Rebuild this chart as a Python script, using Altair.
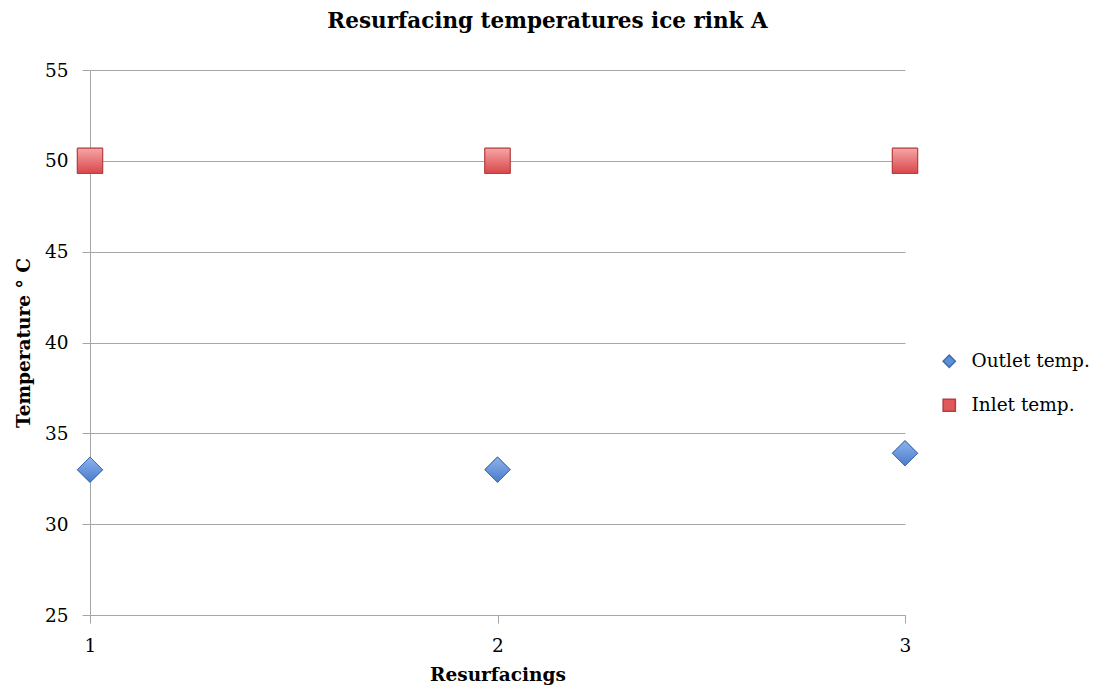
import altair as alt
import pandas as pd

resurfacings = [1, 2, 3]
outlet_temp = [33.0, 33.0, 33.9]
inlet_temp = [50.0, 50.0, 50.0]
series_names = ["Outlet temp.", "Inlet temp."]
series_colors = ["#5B8FD8", "#E0585B"]
series_strokes = ["#3F6DB0", "#B23F42"]
series_shapes = ["diamond", "square"]
series_grad = [("#8DB3EC", "#4A7CCB"), ("#F6A5A6", "#D8474A")]
y_ticks = [25, 30, 35, 40, 45, 50, 55]

rows = []
for x, o, i in zip(resurfacings, outlet_temp, inlet_temp):
    rows.append({"Resurfacings": x, "Temp": o, "Series": series_names[0]})
    rows.append({"Resurfacings": x, "Temp": i, "Series": series_names[1]})
df = pd.DataFrame(rows)

FONT = "DejaVu Serif"
GRID = "#A6A6A6"

x_enc = alt.X("Resurfacings:Q",
              scale=alt.Scale(domain=[1, 3], nice=False, zero=False),
              axis=alt.Axis(title="Resurfacings", tickCount=2,
                            grid=False, labelOverlap=False, labelBound=False, labelFlush=False,
                            domainColor=GRID, tickColor=GRID, tickSize=8,
                            labelFontSize=18.5, labelFont=FONT, labelPadding=13,
                            titleFontSize=18.5, titleFont=FONT, titleFontWeight="bold",
                            titlePadding=11, labelColor="#000", titleColor="#000"))
y_enc = alt.Y("Temp:Q",
              scale=alt.Scale(domain=[25, 55], nice=False, zero=False),
              axis=alt.Axis(title="Temperature ° C", values=y_ticks, tickCount=20,
                            labelOverlap=False,
                            grid=True, gridColor=GRID, domainColor=GRID, tickColor=GRID,
                            tickSize=8, labelFontSize=18.5, labelFont=FONT, labelPadding=14,
                            titleFontSize=18.5, titleFont=FONT, titleFontWeight="bold",
                            titlePadding=11, labelColor="#000", titleColor="#000"))

base = alt.Chart(df).mark_point(filled=True, size=640, opacity=1, strokeWidth=1).encode(
    x=x_enc,
    y=y_enc,
    color=alt.Color("Series:N",
                    scale=alt.Scale(domain=series_names, range=series_colors),
                    legend=alt.Legend(title=None, orient="none", legendX=850, legendY=282,
                                      labelFont=FONT, labelFontSize=18.5, labelColor="#000",
                                      symbolSize=150, rowPadding=25, labelOffset=13)),
    stroke=alt.Stroke("Series:N",
                      scale=alt.Scale(domain=series_names, range=series_strokes),
                      legend=None),
    shape=alt.Shape("Series:N",
                    scale=alt.Scale(domain=series_names, range=series_shapes),
                    legend=None),
)

overlays = []
for name, shape, stroke, (c1, c2) in zip(series_names, series_shapes, series_strokes, series_grad):
    grad = alt.Gradient(gradient="linear", x1=0, x2=0, y1=0, y2=1,
                        stops=[alt.GradientStop(color=c1, offset=0),
                               alt.GradientStop(color=c2, offset=1)])
    overlays.append(
        alt.Chart(df).transform_filter(alt.datum.Series == name).mark_point(
            filled=True, size=640, opacity=1, strokeWidth=1, shape=shape,
            fill=grad, stroke=stroke
        ).encode(x="Resurfacings:Q", y="Temp:Q")
    )

chart = alt.layer(base, *overlays).properties(
    width=815,
    height=545,
    title=alt.Title("Resurfacing temperatures ice rink A", font=FONT, fontSize=21.5,
                    fontWeight="bold", color="#000", anchor="middle", dx=50, offset=29),
    autosize=alt.AutoSizeParams(type="none"),
    padding={"left": 82, "top": 62, "right": 192, "bottom": 73},
).configure_view(stroke=None)

chart.save("out.html", embed_options={"renderer": "svg", "actions": False})
